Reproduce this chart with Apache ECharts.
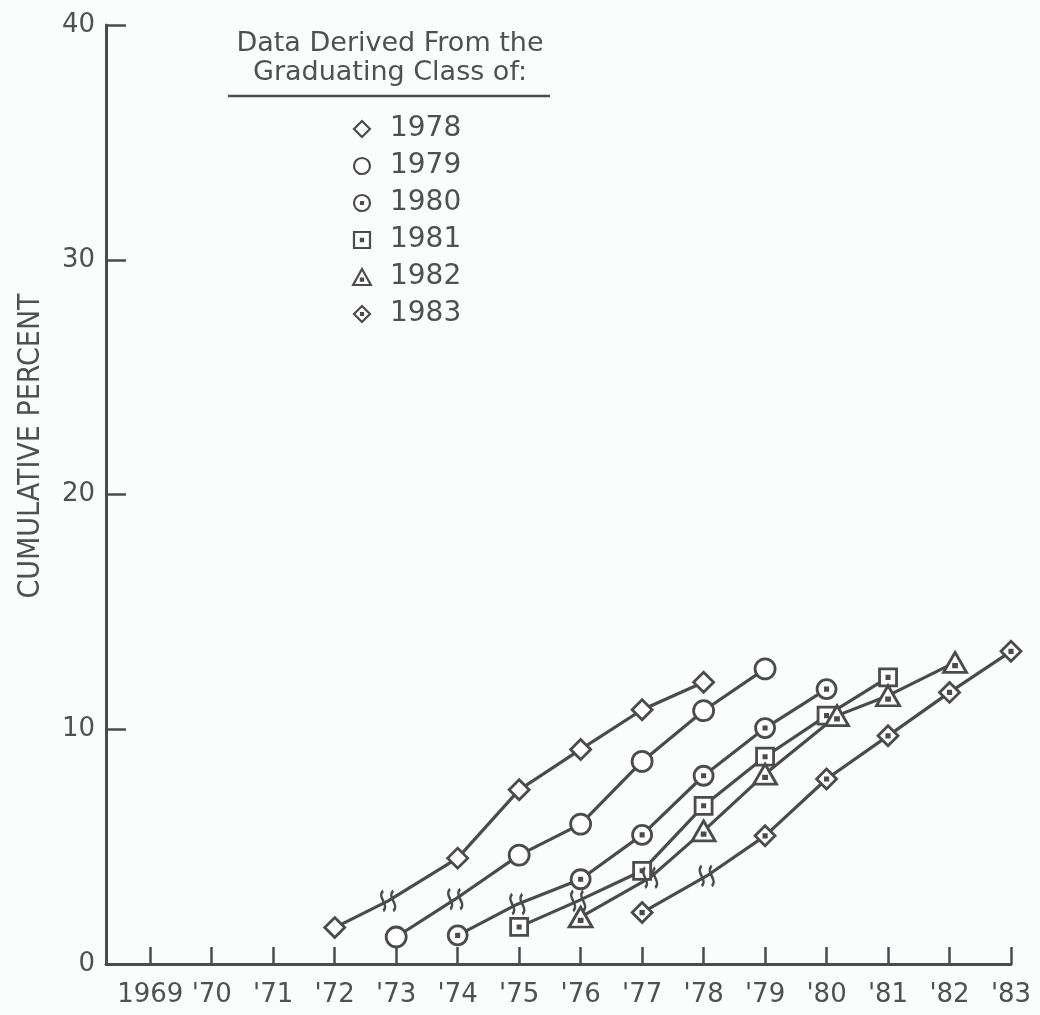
<!DOCTYPE html>
<html>
<head>
<meta charset="utf-8">
<script src="https://cdn.jsdelivr.net/npm/echarts@6/dist/echarts.min.js"></script>
<style>
    html, body { margin: 0; padding: 0; background: #fbfcfc; }
    #chart { width: 1040px; height: 1015px; }
</style>
</head>
<body>
<div id="chart"></div>
<script>
    // graduating classes (one line each)
    const classNames = ['1978', '1979', '1980', '1981', '1982', '1983'];

    // x = year, y = cumulative percent; point 1 of every class is the break mark
    const x1978 = [1972, 1972.87, 1974, 1975, 1976, 1977, 1978];
    const y1978 = [1.55, 2.69, 4.51, 7.42, 9.14, 10.83, 12.0];
    const x1979 = [1973, 1973.96, 1975, 1976, 1977, 1978, 1979];
    const y1979 = [1.15, 2.76, 4.64, 5.96, 8.63, 10.79, 12.57];
    const x1980 = [1974, 1974.97, 1976, 1977, 1978, 1979, 1980];
    const y1980 = [1.22, 2.55, 3.61, 5.50, 8.02, 10.05, 11.71];
    const x1981 = [1975, 1975.96, 1977, 1978, 1979, 1980, 1981];
    const y1981 = [1.58, 2.69, 3.97, 6.74, 8.83, 10.58, 12.21];
    const x1982 = [1976, 1977.13, 1978, 1979, 1980.17, 1981, 1982.09];
    const y1982 = [2.0, 3.68, 5.67, 8.09, 10.58, 11.43, 12.85];
    const x1983 = [1977, 1978.05, 1979, 1980, 1981, 1982, 1983];
    const y1983 = [2.19, 3.75, 5.46, 7.88, 9.72, 11.57, 13.32];
    const breakIndex = 1;

    // axis ticks
    const xTickYears = [1969, 1970, 1971, 1972, 1973, 1974, 1975, 1976, 1977, 1978, 1979, 1980, 1981, 1982, 1983];
    const xTickLabels = ['1969', "'70", "'71", "'72", "'73", "'74", "'75", "'76", "'77", "'78", "'79", "'80", "'81", "'82", "'83"];

    const ink = '#4b4b4b';
    const textInk = '#505050';
    const font = 'DejaVu Sans';

    // marker shapes
    const dot = ' M8.8,8.8 L11.2,8.8 L11.2,11.2 L8.8,11.2 Z';
    const symbols = [
        'path://M10,0 L20,10 L10,20 L0,10 Z',
        'path://M10,0 A10,10 0 1 1 9.99,0 Z',
        'path://M10,0 A10,10 0 1 1 9.99,0 Z' + dot,
        'path://M1,1 L19,1 L19,19 L1,19 Z' + dot,
        'path://M10,1 L20,19 L0,19 Z M8.8,11.8 L11.2,11.8 L11.2,14.2 L8.8,14.2 Z',
        'path://M10,0 L20,10 L10,20 L0,10 Z' + dot
    ];
    const sizes = [[20, 20], [20, 20], [19, 19], [17, 17], [23, 20], [20, 20]];
    const breakSymbol = 'path://M4,0 C0,5 8,11 4,16 M10,0 C6,5 14,11 10,16';

    const xs = [x1978, x1979, x1980, x1981, x1982, x1983];
    const ys = [y1978, y1979, y1980, y1981, y1982, y1983];

    const series = classNames.map((name, k) => ({
        name: name,
        type: 'line',
        symbol: symbols[k],
        symbolSize: sizes[k],
        showAllSymbol: true,
        lineStyle: { color: ink, width: 3.2 },
        itemStyle: { color: '#fff', borderColor: ink, borderWidth: 2.8 },
        emphasis: { disabled: true },
        data: xs[k].map((x, i) => {
            if (i === breakIndex) {
                return {
                    value: [x, ys[k][i]],
                    symbol: breakSymbol,
                    symbolSize: [14, 20],
                    itemStyle: { color: 'rgba(0,0,0,0)', borderColor: ink, borderWidth: 2.8 }
                };
            }
            return [x, ys[k][i]];
        })
    }));

    const chart = echarts.init(document.getElementById('chart'));
    chart.setOption({
        animation: false,
        backgroundColor: '#fbfcfc',
        grid: { left: 106, right: 29, top: 25, bottom: 51 },
        legend: {
            orient: 'vertical',
            left: 347,
            top: 110,
            itemWidth: 46,
            itemHeight: 16,
            itemGap: 9,
            selectedMode: false,
            data: classNames.map((n, k) => ({ name: n, icon: symbols[k] })),
            itemStyle: { color: '#fff', borderColor: ink, borderWidth: 2.2 },
            textStyle: { fontSize: 28, fontFamily: font, color: textInk }
        },
        xAxis: {
            type: 'value',
            min: 1968.28,
            max: 1983,
            splitLine: { show: false },
            axisLine: { lineStyle: { color: ink, width: 3 } },
            axisTick: { inside: true, length: 17, customValues: xTickYears, lineStyle: { color: ink, width: 2.5 } },
            axisLabel: {
                customValues: xTickYears,
                formatter: v => xTickLabels[xTickYears.indexOf(Math.round(v))],
                fontSize: 26,
                fontFamily: font,
                color: textInk,
                margin: 18
            }
        },
        yAxis: {
            type: 'value',
            min: 0,
            max: 40,
            interval: 10,
            splitLine: { show: false },
            axisLine: { lineStyle: { color: ink, width: 3 } },
            axisTick: { inside: true, length: 20, lineStyle: { color: ink, width: 2.5 } },
            axisLabel: { fontSize: 26, fontFamily: font, color: textInk, margin: 11 }
        },
        graphic: [
            {
                type: 'text',
                x: 31,
                y: 446,
                rotation: Math.PI / 2,
                style: {
                    text: 'CUMULATIVE PERCENT',
                    font: '30px "Liberation Sans Narrow", "DejaVu Sans Condensed", sans-serif',
                    fill: textInk,
                    align: 'center',
                    verticalAlign: 'middle'
                }
            },
            {
                type: 'text',
                x: 390,
                y: 29,
                style: {
                    text: 'Data Derived From the\nGraduating Class of:',
                    font: '27px "DejaVu Sans"',
                    lineHeight: 29,
                    fill: textInk,
                    align: 'center',
                    verticalAlign: 'top'
                }
            },
            {
                type: 'line',
                shape: { x1: 228, y1: 96, x2: 550, y2: 96 },
                style: { stroke: ink, lineWidth: 2.5 }
            }
        ],
        series: series
    });
</script>
</body>
</html>
